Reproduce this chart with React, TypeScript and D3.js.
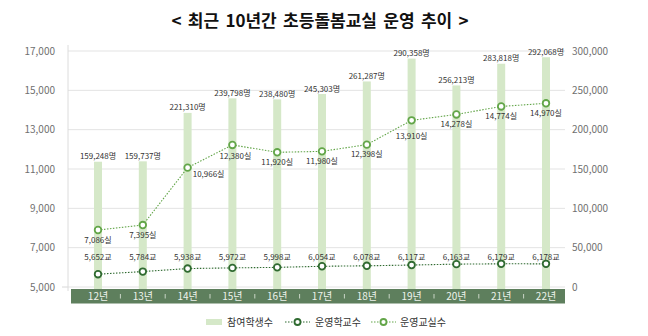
import React from 'react';
import * as d3 from 'd3';

const years = ['12년', '13년', '14년', '15년', '16년', '17년', '18년', '19년', '20년', '21년', '22년'];
const students = [159248, 159737, 221310, 239798, 238480, 245303, 261287, 290358, 256213, 283818, 292068];
const schools = [5652, 5784, 5938, 5972, 5998, 6054, 6078, 6117, 6163, 6179, 6178];
const classrooms = [7086, 7395, 10966, 12380, 11920, 11980, 12398, 13910, 14278, 14774, 14970];
const leftTicks = [5000, 7000, 9000, 11000, 13000, 15000, 17000];
const rightTicks = [0, 50000, 100000, 150000, 200000, 250000, 300000];

const W = 648;
const H = 336;
const plotTop = 51;
const plotBottom = 287;
const gridLeft = 68;
const gridRight = 565;
const FONT = "'Noto Sans CJK KR', 'Noto Sans', sans-serif";

const C_BAR = '#d5e8c8';
const C_ROOM = '#62a548';
const C_SCHOOL = '#2f6a30';
const C_BAND = '#5e7f5d';

// label offsets for the classroom-count labels (dx, dy of baseline from point)
const roomLabelOffset: Record<number, [number, number]> = {
  2: [21, 9],
  3: [3, 14],
  7: [0, 19],
};

export default function App() {
  const x = d3.scaleBand<string>().domain(years).range([75.6, 568.4]);
  const yLeft = d3.scaleLinear().domain([5000, 17000]).range([plotBottom, plotTop]);
  const yRight = d3.scaleLinear().domain([0, 300000]).range([plotBottom, plotTop]);
  // hidden secondary scale used by the classroom line
  const yRoom = d3.scaleLinear().domain([3539, 18225]).range([plotBottom, plotTop]);

  const cx = (i: number) => (x(years[i]) as number) + x.bandwidth() / 2;
  const fmt = d3.format(',');

  const roomLine = d3
    .line<number>()
    .x((_, i) => cx(i))
    .y((d) => yRoom(d));
  const schoolLine = d3
    .line<number>()
    .x((_, i) => cx(i))
    .y((d) => yLeft(d));

  const barW = 8;

  return (
    <svg
      width={W}
      height={H}
      viewBox={`0 0 ${W} ${H}`}
      style={{ position: 'absolute', left: 0, top: 0, background: '#fff' }}
      fontFamily={FONT}
    >
      <rect width={W} height={H} fill="#fff" />
      {/* title */}
      <text x={320} y={27} textAnchor="middle" fontSize={17} fontWeight="bold" fill="#111" wordSpacing={2.5}>
        {'< 최근 10년간 초등돌봄교실 운영 추이 >'}
      </text>

      {/* gridlines */}
      {leftTicks.map((t) => (
        <line key={'g' + t} x1={gridLeft} x2={gridRight} y1={yLeft(t)} y2={yLeft(t)} stroke="#e3e3e3" strokeWidth={1} />
      ))}
      <line x1={62} x2={gridLeft} y1={plotBottom} y2={plotBottom} stroke="#d8d8d8" />
      <line x1={gridLeft} x2={gridLeft} y1={45} y2={291} stroke="#dcdcdc" />

      {/* left ticks */}
      {leftTicks.map((t) => (
        <text key={'l' + t} x={55} y={yLeft(t) + 3.5} textAnchor="end" fontSize={10} fill="#707070">
          {fmt(t)}
        </text>
      ))}
      {/* right ticks */}
      {rightTicks.map((t) => (
        <text key={'r' + t} x={572} y={yRight(t) + 3.5} textAnchor="start" fontSize={10} fill="#707070">
          {fmt(t)}
        </text>
      ))}

      {/* bars */}
      {students.map((v, i) => (
        <rect key={'b' + i} x={cx(i) - barW / 2} y={yRight(v)} width={barW} height={289 - yRight(v)} fill={C_BAR} />
      ))}
      {students.map((v, i) => (
        <text key={'bl' + i} x={cx(i)} y={yRight(v) - 2.5} textAnchor="middle" fontSize={8} fill="#333">
          {fmt(v) + '명'}
        </text>
      ))}

      {/* year band */}
      <rect x={71} y={289} width={494} height={14.5} fill={C_BAND} />
      {years.slice(1).map((yr) => (
        <line
          key={'s' + yr}
          x1={x(yr) as number}
          x2={x(yr) as number}
          y1={294}
          y2={298.5}
          stroke="#c9d6c6"
          strokeWidth={1}
        />
      ))}
      {years.map((yr, i) => (
        <text key={'y' + yr} x={cx(i)} y={300} textAnchor="middle" fontSize={10} fill="#eef3ec">
          {yr}
        </text>
      ))}

      {/* classroom line */}
      <path d={roomLine(classrooms) || ''} fill="none" stroke={C_ROOM} strokeWidth={1.1} strokeDasharray="1.5,1.5" />
      {classrooms.map((v, i) => (
        <circle key={'rc' + i} cx={cx(i)} cy={yRoom(v)} r={3.3} fill="#fff" stroke={C_ROOM} strokeWidth={1.8} />
      ))}
      {classrooms.map((v, i) => {
        const off = roomLabelOffset[i] || [0, 12.5];
        return (
          <text key={'rl' + i} x={cx(i) + off[0]} y={yRoom(v) + off[1]} textAnchor="middle" fontSize={8} fill="#333">
            {fmt(v) + '실'}
          </text>
        );
      })}

      {/* school line */}
      <path d={schoolLine(schools) || ''} fill="none" stroke={C_SCHOOL} strokeWidth={1.1} strokeDasharray="1.5,1.5" />
      {schools.map((v, i) => (
        <circle key={'sc' + i} cx={cx(i)} cy={yLeft(v)} r={3.3} fill="#fff" stroke={C_SCHOOL} strokeWidth={1.8} />
      ))}
      {schools.map((v, i) => (
        <text key={'sl' + i} x={cx(i)} y={yLeft(5000) - 27} textAnchor="middle" fontSize={8} fill="#333">
          {fmt(v) + '교'}
        </text>
      ))}

      {/* legend */}
      <g fontSize={10} fill="#333">
        <rect x={206} y={319} width={16} height={6} fill={C_BAR} />
        <text x={227} y={325.5}>참여학생수</text>
        <line x1={285} x2={310} y1={322} y2={322} stroke={C_SCHOOL} strokeWidth={1.1} strokeDasharray="1.5,1.5" />
        <circle cx={297.5} cy={322} r={3} fill="#fff" stroke={C_SCHOOL} strokeWidth={1.8} />
        <text x={315} y={325.5}>운영학교수</text>
        <line x1={371} x2={396} y1={322} y2={322} stroke={C_ROOM} strokeWidth={1.1} strokeDasharray="1.5,1.5" />
        <circle cx={383.5} cy={322} r={3} fill="#fff" stroke={C_ROOM} strokeWidth={1.8} />
        <text x={400} y={325.5}>운영교실수</text>
      </g>
    </svg>
  );
}
